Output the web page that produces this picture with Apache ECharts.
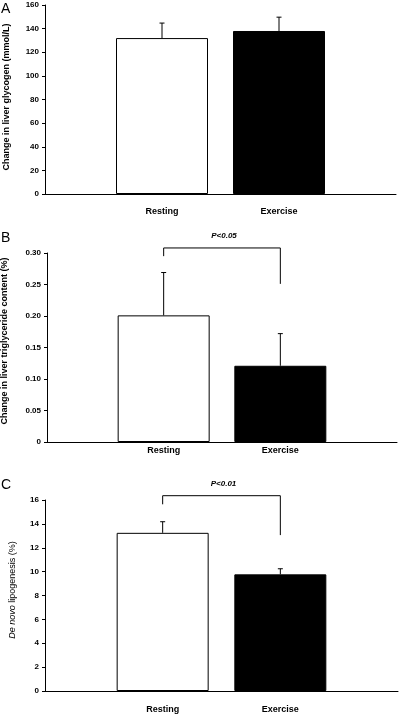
<!DOCTYPE html>
<html>
<head>
<meta charset="utf-8">
<script src="https://cdn.jsdelivr.net/npm/echarts@6/dist/echarts.min.js"></script>
<style>
html,body{margin:0;padding:0;background:#fff;}
#chart{width:401px;height:714px;}
</style>
</head>
<body>
<div id="chart"></div>
<script>
// ---- data ----
const groups = ['Resting', 'Exercise'];
const glycogenMean = [132, 138];
const glycogenSem = [12.7, 11.7];
const tgMean = [0.201, 0.121];
const tgSem = [0.068, 0.051];
const dnlMean = [13.25, 9.77];
const dnlSem = [0.93, 0.47];
// significance brackets: [top, left end, right end]
const tgBracket = [0.308, 0.295, 0.251];
const tgP = 'P<0.05';
const dnlBracket = [16.36, 15.64, 13.06];
const dnlP = 'P<0.01';
const glycogenTicks = [0, 160, 20];
const tgTicks = [0, 0.30, 0.05];
const dnlTicks = [0, 16, 2];
const barColors = ['#ffffff', '#000000'];

const FONT = '"Liberation Sans", Arial, sans-serif';
const axisCats = [''].concat(groups, ['']);

function barData(means) {
  return ['-'].concat(means.map((v, i) => ({
    value: v,
    itemStyle: { color: barColors[i], borderColor: '#000', borderWidth: 1 }
  })), ['-']);
}
function errData(means, sems) {
  return means.map((m, i) => [i + 1, m, sems[i]]);
}
function errRender(params, api) {
  const x = api.value(0), m = api.value(1), e = api.value(2);
  const p0 = api.coord([x, m]);
  const p1 = api.coord([x, m + e]);
  const st = { stroke: '#000', lineWidth: 1 };
  return {
    type: 'group',
    children: [
      { type: 'line', shape: { x1: p0[0], y1: p0[1], x2: p1[0], y2: p1[1] }, style: st },
      { type: 'line', shape: { x1: p1[0] - 2.5, y1: p1[1], x2: p1[0] + 2.5, y2: p1[1] }, style: st }
    ]
  };
}
function bracketRender(label) {
  return function (params, api) {
    const a = api.value(0), b = api.value(1);
    const top = api.value(2), le = api.value(3), re = api.value(4);
    const pl = api.coord([a, le]);
    const plt = api.coord([a, top]);
    const prt = api.coord([b, top]);
    const pr = api.coord([b, re]);
    return {
      type: 'group',
      children: [
        { type: 'polyline', shape: { points: [pl, plt, prt, pr] }, style: { stroke: '#000', lineWidth: 1, fill: null } },
        { type: 'text', style: { text: label, x: (plt[0] + prt[0]) / 2 + 2, y: plt[1] - 12, align: 'center', verticalAlign: 'middle', font: 'italic bold 8px ' + FONT, fill: '#000' } }
      ]
    };
  };
}

const grids = [
  { left: 45, top: 5, width: 351, height: 189 },
  { left: 47, top: 253, width: 350, height: 189 },
  { left: 45, top: 500, width: 353, height: 191 }
];
const labelMargins = [13, 4, 14];
const ticks = [glycogenTicks, tgTicks, dnlTicks];

const xAxes = grids.map((g, i) => ({
  type: 'category', gridIndex: i, data: axisCats, boundaryGap: false,
  axisLine: { lineStyle: { color: '#000', width: 1 } },
  axisTick: { show: false },
  axisLabel: { margin: labelMargins[i], color: '#000', fontFamily: FONT, fontWeight: 'bold', fontSize: 9, interval: 0 },
  splitLine: { show: false }
}));
const yAxes = grids.map((g, i) => ({
  type: 'value', gridIndex: i, min: ticks[i][0], max: ticks[i][1], interval: ticks[i][2],
  axisLine: { show: true, lineStyle: { color: '#000', width: 1 } },
  axisTick: { show: true, length: 3, lineStyle: { color: '#000' } },
  axisLabel: {
    margin: 6, color: '#000', fontFamily: FONT, fontWeight: 'bold', fontSize: 8,
    formatter: i === 1 ? (v => v === 0 ? '0' : v.toFixed(2)) : (v => String(v))
  },
  splitLine: { show: false }
}));

const series = [];
[[glycogenMean, glycogenSem], [tgMean, tgSem], [dnlMean, dnlSem]].forEach((d, i) => {
  series.push({ type: 'bar', xAxisIndex: i, yAxisIndex: i, data: barData(d[0]), barWidth: 92, silent: true, animation: false });
  series.push({ type: 'custom', xAxisIndex: i, yAxisIndex: i, data: errData(d[0], d[1]), renderItem: errRender, encode: { x: 0, y: [1, 2] }, silent: true, animation: false, z: 3 });
});
series.push({ type: 'custom', xAxisIndex: 1, yAxisIndex: 1, data: [[1, 2].concat(tgBracket)], renderItem: bracketRender(tgP), encode: { x: [0, 1], y: [2, 3, 4] }, silent: true, animation: false, clip: false });
series.push({ type: 'custom', xAxisIndex: 2, yAxisIndex: 2, data: [[1, 2].concat(dnlBracket)], renderItem: bracketRender(dnlP), encode: { x: [0, 1], y: [2, 3, 4] }, silent: true, animation: false, clip: false });

const titleStyle = { font: 'bold 9px ' + FONT, fill: '#000', align: 'center', verticalAlign: 'middle' };
const graphic = [
  { type: 'text', left: 1, top: 2, style: { text: 'A', font: '14px ' + FONT, fill: '#000' } },
  { type: 'text', left: 1, top: 231, style: { text: 'B', font: '14px ' + FONT, fill: '#000' } },
  { type: 'text', left: 1, top: 478, style: { text: 'C', font: '14px ' + FONT, fill: '#000' } },
  { type: 'text', x: 6.7, y: 97, rotation: Math.PI / 2, style: Object.assign({ text: 'Change in liver glycogen (mmol/L)' }, titleStyle) },
  { type: 'text', x: 5, y: 341, rotation: Math.PI / 2, style: Object.assign({ text: 'Change in liver triglyceride content (%)' }, titleStyle) },
  { type: 'text', x: 12.7, y: 590, rotation: Math.PI / 2, style: {
      text: '{i|De novo} lipogenesis (%)', font: '9px ' + FONT, fill: '#000', align: 'center', verticalAlign: 'middle',
      rich: { i: { fontStyle: 'italic', fontSize: 9, fontFamily: FONT } } } }
];

const chart = echarts.init(document.getElementById('chart'), null, { renderer: 'canvas' });
chart.setOption({
  animation: false,
  grid: grids,
  xAxis: xAxes,
  yAxis: yAxes,
  series: series,
  graphic: graphic
});
</script>
</body>
</html>
